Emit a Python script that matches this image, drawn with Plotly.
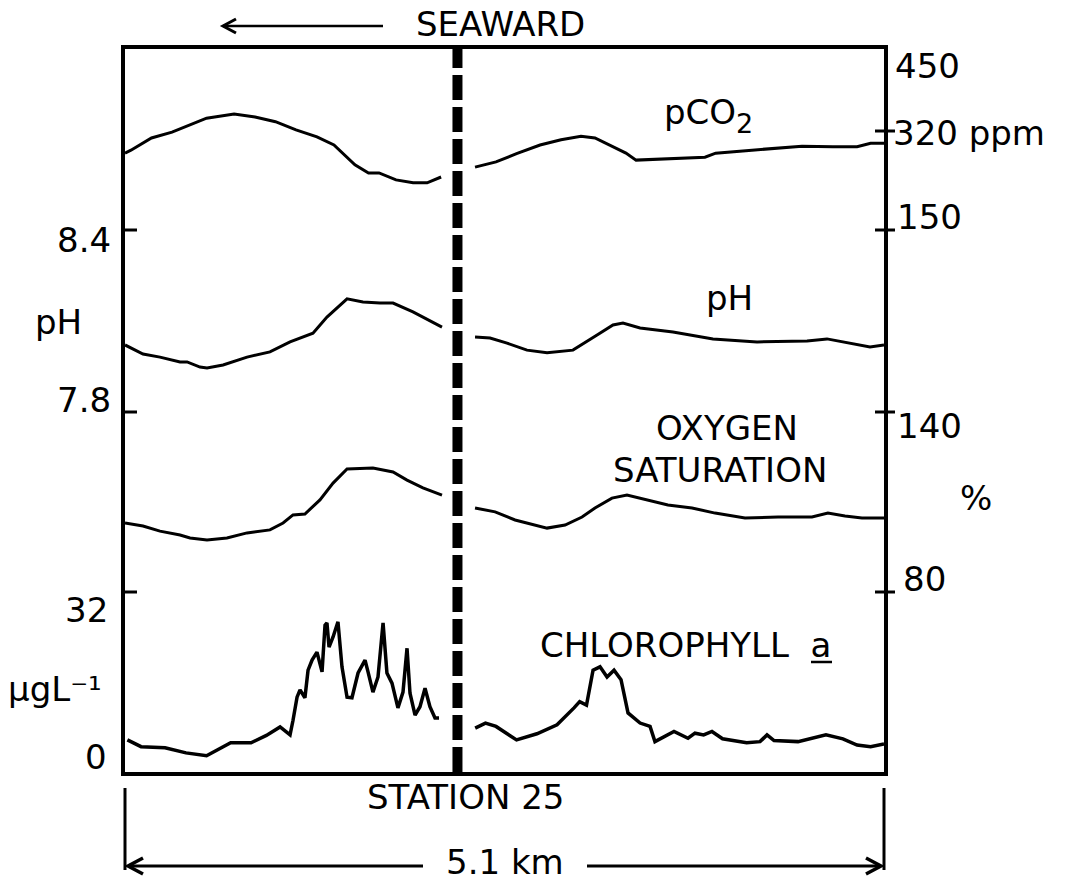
import plotly.graph_objects as go

# ---------------- data (distance along transect in km, 0 = left/seaward edge) ----------------
STATION_KM = 2.234
TOTAL_KM = 5.1

pco2_left_km = [0.000, 0.040, 0.178, 0.316, 0.548, 0.733, 0.874, 1.011, 1.149, 1.290, 1.404,
                1.472, 1.545, 1.636, 1.707, 1.821, 1.936, 2.030, 2.124]
pco2_left = [282, 287, 308, 318, 342, 349, 344, 336, 322, 310, 296,
             279, 262, 248, 248, 236, 231, 231, 241]
pco2_right_km = [2.352, 2.493, 2.631, 2.789, 2.930, 3.064, 3.158, 3.272, 3.366, 3.434, 3.598,
                 3.897, 3.969, 4.180, 4.408, 4.549, 4.757, 4.919, 5.010, 5.100]
pco2_right = [258, 267, 281, 296, 305, 311, 308, 293, 282, 270, 272,
              275, 282, 286, 291, 294, 293, 293, 299, 299]

ph_left_km = [0.000, 0.121, 0.235, 0.370, 0.417, 0.504, 0.551, 0.659, 0.820, 0.974, 1.109,
              1.263, 1.357, 1.492, 1.599, 1.713, 1.801, 1.935, 2.130]
ph_left = [8.021, 7.991, 7.981, 7.965, 7.965, 7.948, 7.945, 7.955, 7.981, 7.998, 8.031,
           8.060, 8.113, 8.173, 8.163, 8.159, 8.159, 8.130, 8.080]
ph_right_km = [2.352, 2.453, 2.567, 2.701, 2.836, 3.010, 3.172, 3.279, 3.346, 3.461, 3.682,
               3.951, 4.247, 4.583, 4.717, 4.919, 5.006, 5.100]
ph_right = [8.047, 8.044, 8.027, 8.004, 7.995, 8.004, 8.054, 8.087, 8.093, 8.077, 8.064,
            8.041, 8.031, 8.034, 8.041, 8.021, 8.014, 8.021]

o2_left_km = [0.000, 0.121, 0.235, 0.370, 0.437, 0.551, 0.685, 0.820, 0.974, 1.062, 1.129,
              1.209, 1.310, 1.398, 1.492, 1.666, 1.801, 1.895, 2.002, 2.130]
o2_left = [103.0, 102.0, 100.3, 99.0, 98.0, 97.3, 98.0, 99.7, 100.7, 103.0, 105.7,
           106.0, 110.7, 116.3, 121.0, 121.3, 120.0, 117.3, 114.7, 112.3]
o2_right_km = [2.352, 2.487, 2.621, 2.735, 2.836, 2.957, 3.071, 3.158, 3.272, 3.373, 3.514,
               3.648, 3.810, 3.965, 4.166, 4.388, 4.616, 4.723, 4.838, 4.952, 5.100]
o2_right = [108.0, 106.7, 104.0, 102.7, 101.3, 102.3, 105.0, 108.0, 111.3, 112.3, 110.7,
            109.0, 108.0, 106.3, 104.7, 105.0, 105.0, 106.3, 105.3, 104.7, 104.7]

chl_left_km = [0.016, 0.108, 0.269, 0.410, 0.548, 0.710, 0.847, 0.950, 1.042, 1.109, 1.129,
               1.156, 1.176, 1.209, 1.230, 1.257, 1.290, 1.324, 1.344, 1.357, 1.371,
               1.398, 1.431, 1.458, 1.492, 1.525, 1.566, 1.613, 1.633, 1.666, 1.700,
               1.734, 1.760, 1.794, 1.834, 1.868, 1.895, 1.915, 1.949, 1.982, 2.016,
               2.049, 2.083, 2.110]
chl_left = [5.7, 4.5, 4.3, 3.4, 2.9, 5.2, 5.2, 6.5, 8.0, 6.6, 9.2,
            13.3, 14.6, 13.2, 18.1, 19.9, 21.3, 17.8, 26.1, 26.5, 22.2,
            24.0, 26.7, 18.7, 13.3, 13.2, 17.6, 19.9, 17.8, 14.2, 16.9,
            26.5, 17.6, 15.8, 11.4, 14.2, 22.0, 14.0, 10.1, 11.6, 14.9,
            11.6, 9.6, 9.6]
chl_right_km = [2.353, 2.422, 2.493, 2.631, 2.768, 2.903, 3.017, 3.055, 3.101, 3.145, 3.192,
                3.239, 3.286, 3.333, 3.380, 3.461, 3.528, 3.561, 3.689, 3.783, 3.830,
                3.888, 3.944, 4.015, 4.177, 4.267, 4.314, 4.361, 4.522, 4.616, 4.710,
                4.824, 4.919, 5.010, 5.100]
chl_right = [7.8, 8.7, 8.1, 5.7, 6.8, 8.4, 11.4, 12.5, 11.9, 18.1, 18.7,
             16.9, 18.1, 16.4, 10.5, 8.7, 8.1, 5.4, 7.2, 6.0, 6.9,
             6.6, 7.2, 5.9, 5.2, 5.4, 6.6, 5.6, 5.4, 6.0, 6.6,
             5.9, 4.8, 4.5, 5.0]

# axis ticks
ph_ticks = [8.4, 7.8]
chl_ticks = [32, 0]
pco2_ticks = [320, 150]
o2_ticks = [140, 80]

# ---------------- figure ----------------
FONT = "DejaVu Sans"
FS = 34
W, H = 1078, 885
L, R, T, B = 125, 1078 - 884, 49, 885 - 772
PW, PH = W - L - R, H - T - B


def xp(px):
    return (px - L) / PW


def yp(py):
    return (772 - py) / PH


fig = go.Figure()
line = dict(color="black", width=3)
for xs, ys in [(pco2_left_km, pco2_left), (pco2_right_km, pco2_right)]:
    fig.add_trace(go.Scatter(x=xs, y=ys, mode="lines", line=line, yaxis="y4", hoverinfo="skip"))
for xs, ys in [(ph_left_km, ph_left), (ph_right_km, ph_right)]:
    fig.add_trace(go.Scatter(x=xs, y=ys, mode="lines", line=line, yaxis="y2", hoverinfo="skip"))
for xs, ys in [(o2_left_km, o2_left), (o2_right_km, o2_right)]:
    fig.add_trace(go.Scatter(x=xs, y=ys, mode="lines", line=line, yaxis="y3", hoverinfo="skip"))
for xs, ys in [(chl_left_km, chl_left), (chl_right_km, chl_right)]:
    fig.add_trace(go.Scatter(x=xs, y=ys, mode="lines", line=dict(color="black", width=3.5),
                             yaxis="y", hoverinfo="skip"))

hidden = dict(visible=False, overlaying="y", showgrid=False, zeroline=False)
fig.update_layout(
    width=W, height=H,
    margin=dict(l=L, r=R, t=T, b=B, autoexpand=False),
    paper_bgcolor="white", plot_bgcolor="white",
    showlegend=False,
    font=dict(family=FONT, size=FS, color="black"),
    xaxis=dict(range=[0, TOTAL_KM], showline=True, mirror=True, linewidth=4, linecolor="black",
               showticklabels=False, ticks="", showgrid=False, zeroline=False),
    yaxis=dict(range=[0, 128.53], showline=True, mirror=True, linewidth=4, linecolor="black",
               showticklabels=False, ticks="", showgrid=False, zeroline=False),
    yaxis2=dict(range=[6.6132, 8.9967], **hidden),
    yaxis3=dict(range=[20, 261], **hidden),
    yaxis4=dict(range=[-780.7, 460.8], **hidden),
)

shapes = []
blk = lambda w: dict(color="black", width=w)
# station 25 dashed divider
shapes.append(dict(type="line", xref="x", yref="paper", x0=STATION_KM, x1=STATION_KM, y0=0, y1=1,
                   line=dict(color="black", width=10, dash="25px,7px")))
# tick marks crossing the frame
for v in ph_ticks:
    shapes.append(dict(type="line", xref="paper", yref="y2", x0=-4 / PW, x1=12 / PW, y0=v, y1=v, line=blk(3)))
shapes.append(dict(type="line", xref="paper", yref="y", x0=-4 / PW, x1=12 / PW, y0=chl_ticks[0],
                   y1=chl_ticks[0], line=blk(3)))
for v in pco2_ticks:
    shapes.append(dict(type="line", xref="paper", yref="y4", x0=1 - 9 / PW, x1=1 + 11 / PW, y0=v, y1=v,
                       line=blk(3)))
for v in o2_ticks:
    shapes.append(dict(type="line", xref="paper", yref="y3", x0=1 - 9 / PW, x1=1 + 11 / PW, y0=v, y1=v,
                       line=blk(3)))
# distance dimension end bars
for xx in (0, 1):
    shapes.append(dict(type="line", xref="paper", yref="paper", x0=xx, x1=xx, y0=yp(788), y1=yp(870),
                       line=blk(3)))
# underline of the "a" in CHLOROPHYLL a
shapes.append(dict(type="line", xref="paper", yref="paper", x0=xp(811), x1=xp(832), y0=yp(662), y1=yp(662),
                   line=blk(2.5)))


def arrow(x_head, x_tail, y, w, hl, hw):
    d = 1 if x_tail > x_head else -1
    shapes.append(dict(type="line", xref="paper", yref="paper", x0=xp(x_head), x1=xp(x_tail),
                       y0=yp(y), y1=yp(y), line=blk(w)))
    path = (f"M {xp(x_head + d * hl)},{yp(y - hw)} L {xp(x_head)},{yp(y)} "
            f"L {xp(x_head + d * hl)},{yp(y + hw)}")
    shapes.append(dict(type="path", xref="paper", yref="paper", path=path, line=blk(w + 0.5)))


arrow(223, 383, 26, 2.5, 13, 7)
arrow(128, 423, 866, 3, 15, 8)
arrow(881, 587, 866, 3, 15, 8)
fig.update_layout(shapes=shapes)

ann = []


def text(t, x, y, xref="paper", yref="paper", xanchor="center", yshift=0, size=FS):
    ann.append(dict(text=t, x=x, y=y, xref=xref, yref=yref, xanchor=xanchor, yanchor="middle",
                    yshift=yshift, showarrow=False, font=dict(family=FONT, size=size, color="black")))


# tick labels
text("8.4", xp(84), 8.4, yref="y2", yshift=-10)
text("7.8", xp(84), 7.8, yref="y2", yshift=12)
text("32", xp(86), 32, yref="y", yshift=-18)
text("0", xp(96), 0, yref="y", yshift=15)
text("450", xp(893), 450, yref="y4", xanchor="left", yshift=-11)
text("320 ppm", xp(891), 320, yref="y4", xanchor="left", yshift=-2)
text("150", xp(895), 150, yref="y4", xanchor="left", yshift=13)
text("140", xp(895), 140, yref="y3", xanchor="left", yshift=-14)
text("80", xp(901), 80, yref="y3", xanchor="left", yshift=13)
text("%", xp(976), yp(498))
text("pH", xp(58), yp(322))
text("μgL⁻¹", xp(55), yp(689))

# series labels
text("pCO", xp(700), yp(112))
text("2", xp(744), yp(124), size=27)
text("pH", xp(729), yp(298))
text("OXYGEN", xp(727), yp(428))
text("SATURATION", xp(720), yp(470))
text("CHLOROPHYLL  a", xp(685), yp(645))

# surrounding labels
text("SEAWARD", xp(500), yp(24))
text("STATION 25", xp(465), yp(797))
text("5.1 km", xp(505), yp(862))
fig.update_layout(annotations=ann)

fig.write_html("out.html")
